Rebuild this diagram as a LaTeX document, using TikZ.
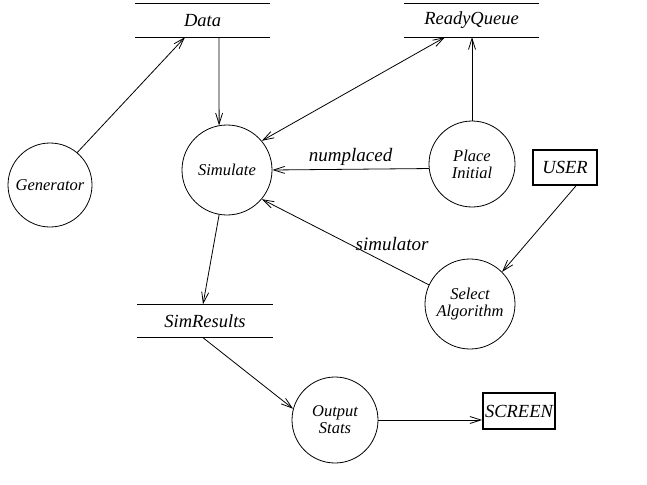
\documentclass[tikz,border=0pt]{standalone}
\usepackage{fontspec}
\setmainfont{Liberation Serif}
\usetikzlibrary{arrows.meta}
\begin{document}
\begin{tikzpicture}[x=1pt,y=-1pt,
  proc/.style={circle, draw, line width=0.8pt, inner sep=0pt, align=center, font=\fontsize{16.5}{17}\selectfont\itshape},
  store/.style={minimum width=135pt, minimum height=33pt, inner sep=0pt, font=\fontsize{18.5}{20}\selectfont\itshape},
  ext/.style={draw, line width=1.6pt, inner sep=0pt, font=\fontsize{18.5}{20}\selectfont\itshape},
  flow/.style={line width=0.8pt, -{Straight Barb[length=11pt,width=7pt]}},
  bflow/.style={line width=0.8pt, {Straight Barb[length=11pt,width=7pt]}-{Straight Barb[length=11pt,width=7pt]}},
  lbl/.style={font=\fontsize{19}{21}\selectfont\itshape},
  sline/.style={line width=0.8pt}]
\useasboundingbox (0,0) rectangle (647,484);

\node[store] (data) at (202.5,20.5) {Data};
\node[store] (rq) at (471.5,20.5) {ReadyQueue};
\node[store] (sr) at (205,321) {SimResults};
\foreach \s in {data,rq,sr}{
  \draw[sline] (\s.north west) -- (\s.north east) (\s.south west) -- (\s.south east);
}

\node[proc, minimum size=84pt] (gen) at (50,185) {Generator};
\node[proc, minimum size=90pt] (sim) at (227,170) {Simulate};
\node[proc, minimum size=86pt] (pi) at (472,164) {Place\\Initial};
\node[proc, minimum size=90pt] (sa) at (470,304) {Select\\Algorithm};
\node[proc, minimum size=86pt] (os) at (335,420) {Output\\Stats};
\node[ext, minimum width=64pt, minimum height=35pt] (user) at (565,167.5) {USER};
\node[ext, minimum width=72pt, minimum height=36pt] (scr) at (519,411) {SCREEN};

\draw[flow] (gen.50) -- ([xshift=-17.5pt]data.south);
\draw[flow] ([xshift=16.5pt]data.south) -- (sim.100);
\draw[bflow] (sim.40) -- ([xshift=-26.5pt]rq.south);
\draw[flow] (pi.north) -- (pi.north |- rq.south);
\draw[flow] (pi.186) -- node[lbl, above] {numplaced} (sim.east);
\draw[flow] (sa.155) -- node[lbl, pos=0.22, above=12pt] {simulator} (sim.-40);
\draw[flow] ([xshift=11pt]user.south) -- (sa.45);
\draw[flow] (sim.-100) -- ([xshift=-2pt]sr.north);
\draw[flow] ([xshift=-2pt]sr.south) -- (os.165);
\draw[flow] (os.east) -- (os.east -| scr.west);
\end{tikzpicture}
\end{document}
